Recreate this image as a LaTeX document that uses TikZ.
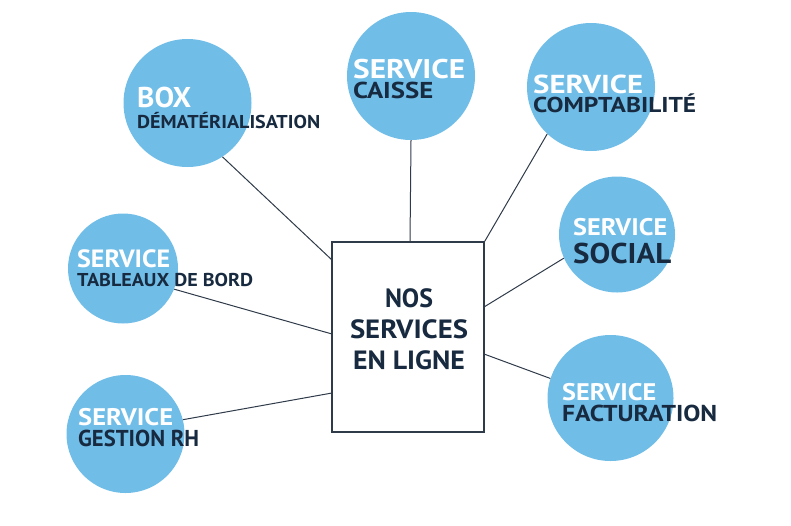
\documentclass[tikz,border=0pt]{standalone}
\usepackage{fontspec}
\setmainfont{PT Sans}
\definecolor{cblue}{HTML}{70BDE8}
\definecolor{navy}{HTML}{172A3F}
\definecolor{lnk}{HTML}{2F3B49}
\newcommand\fitw[2]{\resizebox{#1}{\height}{#2}}
\begin{document}
\begin{tikzpicture}[x=1pt,y=-1pt,
  circ/.style={circle, fill=cblue, draw=none, minimum size=#1, inner sep=0pt},
  wt/.style={anchor=base west, inner sep=0pt, text=white, font=\bfseries\fontsize{#1}{#1}\selectfont},
  dk/.style={anchor=base west, inner sep=0pt, text=navy, font=\bfseries\fontsize{#1}{#1}\selectfont},
  ct/.style={anchor=base, inner sep=0pt, text=navy, font=\bfseries\fontsize{26.4}{31}\selectfont},
  link/.style={draw=lnk, line width=1pt},
  centerbox/.style={draw=lnk, line width=1.6pt, fill=white, minimum width=152pt, minimum height=190pt, inner sep=0pt}]
\useasboundingbox (0,0) rectangle (791,525);

% circles
\node[circ=128] (c1) at (187.5,103) {};
\node[circ=128] (c2) at (411,76) {};
\node[circ=128] (c3) at (591,87) {};
\node[circ=116] (c4) at (617,234.5) {};
\node[circ=126] (c5) at (610.5,398) {};
\node[circ=110] (c6) at (123,268.5) {};
\node[circ=118] (c7) at (125.5,434) {};

% centre rectangle
\node[centerbox] (rect) at (408,337) {};
\coordinate (r1) at (332,260);
\coordinate (r2) at (410,242);
\coordinate (r4) at (484,307);
\coordinate (r5) at (484,354);
\coordinate (r6) at (332,334);
\coordinate (r7) at (332,393);

% connectors
\draw[link] (c1.-57) -- (r1);
\draw[link] (c2.south) -- (r2);
\draw[link] (c3.-133) -- (rect.north east);
\draw[link] (c4.-156) -- (r4);
\draw[link] (c5.162) -- (r5);
\draw[link] (c6.-22) -- (r6);
\draw[link] (c7.14.6) -- (r7);

% texts
\node[wt=28.6] (t1a) at (137,107) {\fitw{54pt}{BOX}};
\node[dk=18.6] (t1b) at (137,128) {\fitw{183pt}{DÉMATÉRIALISATION}};

\node[wt=27] (t2a) at (353,78) {\fitw{112pt}{SERVICE}};
\node[dk=23] (t2b) at (353,98) {\fitw{80pt}{CAISSE}};

\node[wt=26] (t3a) at (533,93) {\fitw{110pt}{SERVICE}};
\node[dk=21.5] (t3b) at (533,112) {\fitw{163pt}{COMPTABILITÉ}};

\node[wt=24] (t4a) at (573,235) {\fitw{94pt}{SERVICE}};
\node[dk=28.6] (t4b) at (573,263) {\fitw{98pt}{SOCIAL}};

\node[wt=24] (t5a) at (562,400) {\fitw{94pt}{SERVICE}};
\node[dk=23] (t5b) at (562,421) {\fitw{155pt}{FACTURATION}};

\node[wt=25] (t6a) at (77,267) {\fitw{93pt}{SERVICE}};
\node[dk=18.6] (t6b) at (77,286) {\fitw{176pt}{TABLEAUX DE BORD}};

\node[wt=24] (t7a) at (78,425) {\fitw{95pt}{SERVICE}};
\node[dk=23] (t7b) at (78,446) {\fitw{121pt}{GESTION RH}};

\node[ct] (n1) at (409,307) {\fitw{48pt}{NOS}};
\node[ct] (n2) at (409,338) {\fitw{118pt}{SERVICES}};
\node[ct] (n3) at (409,369) {\fitw{112pt}{EN LIGNE}};
\end{tikzpicture}
\end{document}
